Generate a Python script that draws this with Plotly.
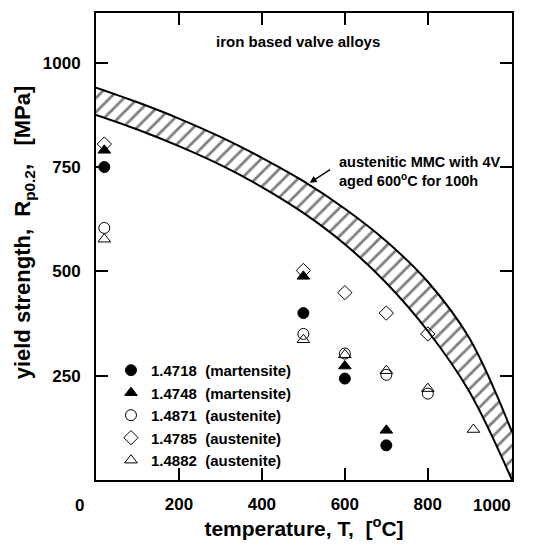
import plotly.graph_objects as go

# temperature [°C] and yield strength [MPa]
t_4718 = [20, 500, 600, 700]
r_4718 = [750, 400, 243, 83]

t_4748 = [20, 500, 600, 700]
r_4748 = [790, 488, 273, 119]

t_4871 = [20, 500, 600, 700, 800]
r_4871 = [604, 350, 303, 252, 207]

t_4785 = [20, 500, 600, 700, 800]
r_4785 = [805, 502, 449, 400, 350]

t_4882 = [20, 500, 600, 700, 800, 910]
r_4882 = [577, 336, 300, 262, 219, 121]

# scatter band of the MMC
band_t = [0, 100, 200, 300, 400, 500, 600, 700, 800, 900, 1003]
band_hi = [940, 905, 866, 822, 772, 716, 650, 572, 475, 340, 115]
band_lo = [875, 840, 800, 755, 702, 640, 565, 472, 357, 212, 0]

FONT = "Liberation Sans, Arial, sans-serif"

fig = go.Figure()

fig.add_trace(go.Scatter(x=band_t, y=band_lo, mode="lines",
                         line=dict(color="black", width=2, shape="spline"),
                         showlegend=False, hoverinfo="skip"))
fig.add_trace(go.Scatter(x=band_t, y=band_hi, mode="lines",
                         line=dict(color="black", width=2, shape="spline"),
                         fill="tonexty", fillcolor="white",
                         fillpattern=dict(shape="/", fgcolor="black", bgcolor="white",
                                          size=10, solidity=0.28),
                         showlegend=False, hoverinfo="skip"))

series = [
    ("1.4718  (martensite)", t_4718, r_4718, "circle", 11),
    ("1.4748  (martensite)", t_4748, r_4748, "triangle-up", 11),
    ("1.4871  (austenite)", t_4871, r_4871, "circle-open", 11),
    ("1.4785  (austenite)", t_4785, r_4785, "diamond-open", 11),
    ("1.4882  (austenite)", t_4882, r_4882, "triangle-up-open", 11),
]
for name, xs, ys, sym, sz in series:
    fig.add_trace(go.Scatter(x=xs, y=ys, mode="markers", name=name,
                             marker=dict(symbol=sym, size=sz, color="black",
                                         line=dict(color="black", width=1))))

fig.add_annotation(x=0.486, y=0.938, xref="paper", yref="paper",
                   xanchor="center", yanchor="middle",
                   text="<b>iron based valve alloys</b>", showarrow=False,
                   font=dict(family=FONT, size=15, color="black"))
fig.add_annotation(x=0.58, y=0.703, xref="paper", yref="paper", xanchor="left",
                   yanchor="top", align="left", showarrow=False,
                   text="<b>austenitic MMC with 4V<br>aged 600<sup>o</sup>C for 100h</b>",
                   font=dict(family=FONT, size=14.5, color="black"))
fig.add_annotation(x=515, y=712, ax=568, ay=746, axref="x", ayref="y",
                   showarrow=True, arrowhead=2, arrowsize=1.1, arrowwidth=1.3,
                   arrowcolor="black", text="")
# corner tick labels sit off their ticks in the original
fig.add_annotation(x=-0.04, y=-0.054, xref="paper", yref="paper", showarrow=False,
                   xanchor="center", yanchor="middle",
                   text="<b>0</b>", font=dict(family=FONT, size=17, color="black"))
fig.add_annotation(x=1.002, y=-0.054, xref="paper", yref="paper", showarrow=False,
                   xanchor="right", yanchor="middle",
                   text="<b>1000</b>", font=dict(family=FONT, size=17, color="black"))
fig.add_annotation(x=-0.171, y=0.53, xref="paper", yref="paper", showarrow=False,
                   xanchor="center", yanchor="middle", textangle=-90,
                   text="<b>yield strength,  R<sub>p0.2</sub>,   [MPa]</b>",
                   font=dict(family=FONT, size=22, color="black"))

# the page body adds an 8 px offset, so the figure is 8 px smaller
fig.update_layout(
    width=539, height=537,
    margin=dict(l=88, r=35, t=5, b=65),
    plot_bgcolor="white", paper_bgcolor="white",
    font=dict(family=FONT, color="black"),
    legend=dict(x=0.036, y=0.27, xanchor="left", yanchor="top",
                traceorder="normal",
                bgcolor="rgba(0,0,0,0)", tracegroupgap=0,
                font=dict(family=FONT, size=15, color="black", weight="bold"),
                itemwidth=30),
)
fig.update_xaxes(range=[0, 1003], tickvals=[200, 400, 600, 800],
                 ticks="inside", ticklen=12, tickwidth=1.5, tickcolor="black",
                 showline=True, linecolor="black", linewidth=2, mirror="ticks",
                 showgrid=False, zeroline=False, automargin=False,
                 ticklabelstandoff=8,
                 tickfont=dict(family=FONT, size=17, weight="bold"),
                 title=dict(text="<b>temperature, T,  [<sup>o</sup>C]</b>",
                            font=dict(family=FONT, size=21), standoff=3))
fig.update_yaxes(range=[0, 1119], tickvals=[250, 500, 750, 1000],
                 ticks="inside", ticklen=12, tickwidth=1.5, tickcolor="black",
                 showline=True, linecolor="black", linewidth=2, mirror="ticks",
                 showgrid=False, zeroline=False, automargin=False,
                 ticklabelstandoff=10,
                 tickfont=dict(family=FONT, size=17, weight="bold"))

fig.write_html("out.html")
